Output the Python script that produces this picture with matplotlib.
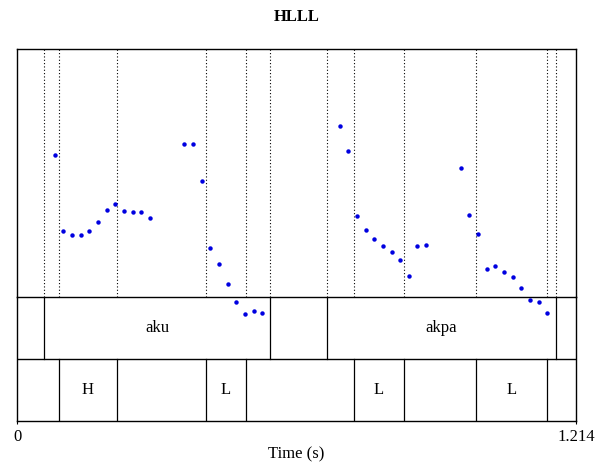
#!/usr/bin/env python3
"""Courbe de F0 avec les deux tiers du TextGrid (mots et tons)"""

import matplotlib
matplotlib.use("Agg")
import matplotlib.pyplot as plt

plt.rcParams['font.family'] = ['Liberation Serif', 'DejaVu Serif']

DUREE = 1.214
F0_MIN, F0_MAX = 100, 250

# points de F0 (s, Hz)
temps = [0.0819, 0.1005, 0.1194, 0.1383, 0.1570, 0.1759, 0.1948, 0.2135,
         0.2324, 0.2512, 0.2699, 0.2888, 0.3633, 0.3822, 0.4011, 0.4198,
         0.4387, 0.4575, 0.4762, 0.4951, 0.5140, 0.5327,
         0.7014, 0.7194, 0.7383, 0.7572, 0.7759, 0.7948, 0.8137, 0.8324,
         0.8512, 0.8697, 0.8888, 0.9635, 0.9822, 1.0011, 1.0200, 1.0387,
         1.0575, 1.0764, 1.0951, 1.1140, 1.1329, 1.1516]
f0 = [185.7, 139.7, 137.5, 137.3, 139.7, 145.2, 152.8, 156.3,
      151.8, 151.6, 151.2, 148.0, 192.4, 192.5, 170.2, 129.6,
      120.2, 108.1, 96.8, 89.7, 91.4, 90.1,
      203.4, 188.1, 149.2, 140.5, 134.9, 130.9, 127.2, 122.6,
      112.9, 130.6, 131.5, 178.2, 149.8, 137.9, 117.1, 118.6,
      115.1, 111.9, 105.5, 98.0, 97.2, 90.1]

# tier 1 : mots
bornes_mots = [0, 0.0593, 0.5494, 0.6725, 1.1711, DUREE]
mots = ["", "aku", "", "akpa", ""]

# tier 2 : tons
bornes_tons = [0, 0.0906, 0.2165, 0.4098, 0.4966, 0.7312, 0.8397, 0.9967, 1.1516, DUREE]
tons = ["", "H", "", "L", "", "L", "", "L", ""]

fig = plt.figure(figsize=(5.95, 4.70), dpi=100)
gauche, largeur = 17 / 595, 559 / 595
ax = fig.add_axes([gauche, 173 / 470, largeur, 248 / 470])
ax_tg = fig.add_axes([gauche, 49 / 470, largeur, 124 / 470])
# la F0 passe par-dessus les tiers quand elle descend sous la zone
ax.set_zorder(3)
ax.patch.set_alpha(0)

# limites des intervalles en pointillés sur la zone de F0
for b in sorted(set(bornes_mots[1:-1] + bornes_tons[1:-1])):
    ax.axvline(b, color="black", lw=0.8, ls=(0, (1, 2)))

ax.plot(temps, f0, "o", color="#0000e0", ms=3.2, mec="none", clip_on=False, zorder=5)
ax.set_xlim(0, DUREE)
ax.set_ylim(F0_MIN, F0_MAX)
ax.set_xticks([])
ax.set_yticks([])
ax.spines["bottom"].set_visible(False)
for s in ["top", "left", "right"]:
    ax.spines[s].set_linewidth(1.0)
ax.set_title("HLLL", fontsize=12, fontweight="bold", pad=20)

# les deux tiers
ax_tg.set_xlim(0, DUREE)
ax_tg.set_ylim(0, 2)
ax_tg.axhline(1, color="black", lw=1.0)
for bornes, labels, y0 in [(bornes_mots, mots, 1), (bornes_tons, tons, 0)]:
    for b in bornes[1:-1]:
        ax_tg.plot([b, b], [y0, y0 + 1], color="black", lw=0.9)
    for a, b, lab in zip(bornes[:-1], bornes[1:], labels):
        if lab:
            ax_tg.text((a + b) / 2, y0 + 0.5, lab, ha="center", va="center", fontsize=12)
for s in ax_tg.spines.values():
    s.set_linewidth(1.0)
ax_tg.set_yticks([])
ax_tg.set_xticks([0, DUREE])
ax_tg.set_xticklabels(["0", "1.214"])
ax_tg.tick_params(axis="x", length=2.5, width=0.8, pad=3, labelsize=12)
ax_tg.set_xlabel("Time (s)", fontsize=12, labelpad=1)

fig.savefig("out.png", dpi=100)
